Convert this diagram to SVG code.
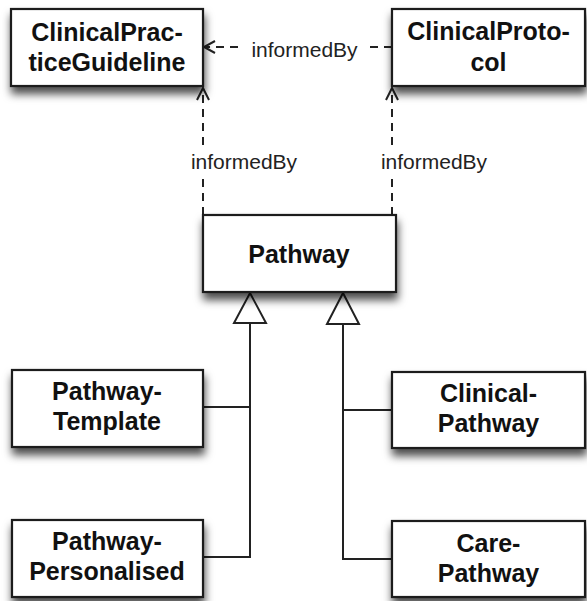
<svg xmlns="http://www.w3.org/2000/svg" width="587" height="601" viewBox="0 0 587 601">
<defs>
<filter id="sh" x="-20%" y="-20%" width="140%" height="160%">
<feDropShadow dx="1" dy="7" stdDeviation="4" flood-color="#000" flood-opacity="0.7"/>
</filter>
<style>
.box{fill:#fff;stroke:#1a1a1a;stroke-width:2.2;filter:url(#sh)}
.t{font-family:"Liberation Sans",Arial,sans-serif;font-weight:bold;font-size:25px;fill:#111;text-anchor:middle}
.lbl{font-family:"Liberation Sans",Arial,sans-serif;font-size:21px;fill:#222;text-anchor:middle}
.dash{fill:none;stroke:#222;stroke-width:2;stroke-dasharray:8,6}
.solid{fill:none;stroke:#222;stroke-width:2}
.arr{fill:none;stroke:#222;stroke-width:2}
.tri{fill:#fff;stroke:#222;stroke-width:2;stroke-linejoin:miter}
.bg{fill:#fff}
</style>
</defs>
<rect width="587" height="601" fill="#fff"/>
<g id="connectors">
<line class="dash" x1="392" y1="47" x2="206" y2="47"/>
<rect class="bg" x="242" y="36" width="124" height="26"/>
<text class="lbl" x="304.5" y="57">informedBy</text>
<path class="arr" d="M215,41 L204,47 L215,53"/>
<line class="dash" x1="203" y1="215" x2="203" y2="90"/>
<rect class="bg" x="189" y="150" width="110" height="24"/>
<text class="lbl" x="244" y="169">informedBy</text>
<path class="arr" d="M197,100 L203,88 L209,100"/>
<line class="dash" x1="392" y1="215" x2="392" y2="90"/>
<rect class="bg" x="378" y="150" width="112" height="24"/>
<text class="lbl" x="434" y="169">informedBy</text>
<path class="arr" d="M386,100 L392,88 L398,100"/>
<path class="solid" d="M250,323 L250,557 L203,557 M250,407 L203,407"/>
<path class="tri" d="M250,293 L266,323 L234,323 Z"/>
<path class="solid" d="M343,324 L343,559 L392,559 M343,410 L392,410"/>
<path class="tri" d="M343,293 L359,324 L327,324 Z"/>
</g>
<g id="ClinicalPracticeGuideline">
<rect class="box" x="11" y="9" width="192" height="77"/>
<text class="t" x="107" y="41">ClinicalPrac-</text>
<text class="t" x="107" y="71">ticeGuideline</text>
</g>
<g id="ClinicalProtocol">
<rect class="box" x="392" y="9" width="193" height="77"/>
<text class="t" x="488.5" y="40">ClinicalProto-</text>
<text class="t" x="488.5" y="71">col</text>
</g>
<g id="Pathway">
<rect class="box" x="203" y="215" width="193" height="77"/>
<text class="t" x="299" y="263">Pathway</text>
</g>
<g id="PathwayTemplate">
<rect class="box" x="12" y="370" width="191" height="77"/>
<text class="t" x="107" y="400">Pathway-</text>
<text class="t" x="107" y="430">Template</text>
</g>
<g id="PathwayPersonalised">
<rect class="box" x="12" y="520" width="191" height="77"/>
<text class="t" x="107" y="550">Pathway-</text>
<text class="t" x="107" y="580">Personalised</text>
</g>
<g id="ClinicalPathway">
<rect class="box" x="392" y="372" width="193" height="76"/>
<text class="t" x="488.5" y="402">Clinical-</text>
<text class="t" x="488.5" y="432">Pathway</text>
</g>
<g id="CarePathway">
<rect class="box" x="392" y="521" width="193" height="76"/>
<text class="t" x="488.5" y="552">Care-</text>
<text class="t" x="488.5" y="582">Pathway</text>
</g>
</svg>
